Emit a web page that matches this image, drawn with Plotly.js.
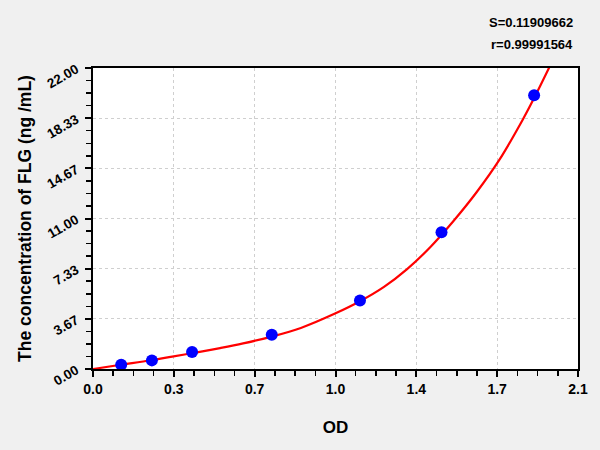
<!DOCTYPE html>
<html>
<head>
<meta charset="utf-8">
<script src="https://cdn.plot.ly/plotly-3.0.1.min.js"></script>
<style>html,body{margin:0;padding:0;background:#f0f0f0;}#chart{width:600px;height:450px;}</style>
</head>
<body>
<div id="chart"></div>
<script>
// Measured standards (OD vs concentration)
const stdOD = [0.122, 0.255, 0.429, 0.774, 1.156, 1.509, 1.910];
const stdConc = [0.31, 0.63, 1.25, 2.5, 5, 10, 20];

// Fitted curve
const curveOD = [0, 0.12, 0.25, 0.343, 0.45, 0.55, 0.65, 0.774, 0.9, 1.048, 1.156, 1.26, 1.36, 1.46, 1.56, 1.66, 1.76, 1.86, 1.91, 1.98];
const curveConc = [0, 0.31, 0.64, 0.91, 1.22, 1.53, 1.87, 2.37, 3.0, 4.05, 4.95, 6.0, 7.3, 8.9, 10.8, 12.9, 15.3, 18.2, 19.8, 22.2];

// Axis ticks
const xTickVals = [0, 0.35, 0.7, 1.05, 1.4, 1.75, 2.1];
const xTickText = ["0.0", "0.3", "0.7", "1.0", "1.4", "1.7", "2.1"];
const yTickVals = [0, 22/6, 44/6, 11, 88/6, 110/6, 22];
const yTickText = ["0.00", "3.67", "7.33", "11.00", "14.67", "18.33", "22.00"];

const statS = "S=0.11909662";
const statR = "r=0.99991564";

const font = "Liberation Sans, Arial, sans-serif";

const traces = [
  {
    x: curveOD, y: curveConc, type: 'scatter', mode: 'lines',
    line: {color: '#ff0000', width: 2.2, shape: 'spline', smoothing: 1},
    hoverinfo: 'skip', showlegend: false
  },
  {
    x: stdOD, y: stdConc, type: 'scatter', mode: 'markers',
    marker: {color: '#0000ff', size: 12, line: {width: 0}},
    showlegend: false
  }
];

const axisCommon = {
  showline: true, linecolor: '#000', linewidth: 2, mirror: true,
  ticks: 'outside', ticklen: 6, tickwidth: 2, tickcolor: '#000',
  showgrid: true, gridcolor: '#cfcfcf', gridwidth: 1, griddash: 'dot',
  zeroline: false, tickmode: 'array',
  tickfont: {family: font, size: 14, color: '#000', weight: 'bold'}
};

const layout = {
  width: 600, height: 450,
  paper_bgcolor: '#f0f0f0', plot_bgcolor: '#ffffff',
  margin: {l: 93, r: 22, t: 68, b: 80.5},
  font: {family: font},
  xaxis: Object.assign({}, axisCommon, {
    range: [0, 2.1], tickvals: xTickVals, ticktext: xTickText,
    minor: {dtick: 0.0875, tick0: 0, ticks: 'outside', ticklen: 5, tickwidth: 1.5, tickcolor: '#000', showgrid: false},
    title: {text: 'OD', font: {family: font, size: 17, color: '#000', weight: 'bold'}, standoff: 25}
  }),
  yaxis: Object.assign({}, axisCommon, {
    range: [0, 22], tickvals: yTickVals, ticktext: yTickText, tickangle: -30,
    ticklabelstandoff: 6,
    tickfont: {family: font, size: 13.5, color: '#000', weight: 'bold'},
    minor: {dtick: 22/24, tick0: 0, ticks: 'outside', ticklen: 5, tickwidth: 1.5, tickcolor: '#000', showgrid: false},
    title: {text: 'The concentration of FLG (ng /mL)', font: {family: font, size: 17.5, color: '#000', weight: 'bold'}, standoff: 8}
  }),
  annotations: [
    {xref: 'paper', yref: 'paper', x: 1.0, y: 1, xshift: -3, yshift: 46, xanchor: 'right', yanchor: 'middle',
     text: statS, showarrow: false, font: {family: 'Liberation Sans Narrow, Liberation Sans, Arial', size: 13, color: '#000', weight: 'bold'}},
    {xref: 'paper', yref: 'paper', x: 1.0, y: 1, xshift: -3, yshift: 24, xanchor: 'right', yanchor: 'middle',
     text: statR, showarrow: false, font: {family: 'Liberation Sans Narrow, Liberation Sans, Arial', size: 13, color: '#000', weight: 'bold'}}
  ]
};

Plotly.newPlot('chart', traces, layout, {displayModeBar: false, staticPlot: true});
</script>
</body>
</html>
